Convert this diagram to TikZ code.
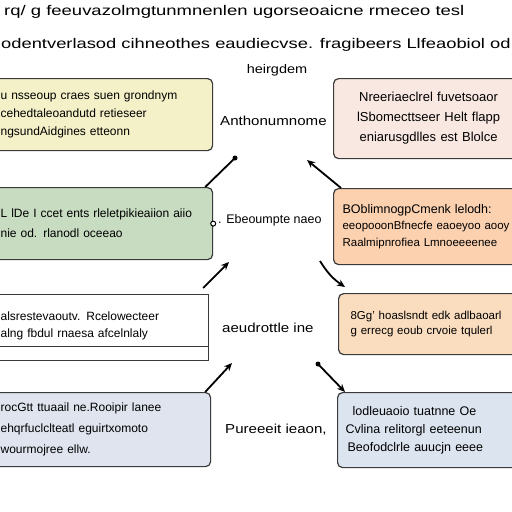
\documentclass[tikz,border=0pt]{standalone}
\usepackage{fontspec}
\setmainfont{Liberation Sans}
\newfontfamily\widefont[FakeStretch=1.31]{Liberation Sans}
\newfontfamily\widerfont[FakeStretch=1.32]{Liberation Sans}
\newfontfamily\labfont[FakeStretch=1.16]{Liberation Sans}
\usetikzlibrary{arrows.meta}
\definecolor{cyel}{HTML}{F4F0C8}
\definecolor{cpink}{HTML}{F9E8E2}
\definecolor{cgreen}{HTML}{C7DCC1}
\definecolor{corange}{HTML}{FBD1B0}
\definecolor{cpeach}{HTML}{FADDBF}
\definecolor{cblueL}{HTML}{DFE4EF}
\definecolor{cblueR}{HTML}{DCE4F0}
\definecolor{cedge}{HTML}{3A3A3A}
\tikzset{
  box/.style={draw=cedge, line width=1.2pt, rounded corners=5pt, anchor=north west,
    inner xsep=6pt, inner ysep=4pt, font=\fontsize{12}{18}\selectfont},
  clabel/.style={font=\labfont\fontsize{13}{15}\selectfont, anchor=west, inner sep=0pt},
  ttl/.style={font=\widefont\fontsize{14}{16}\selectfont, inner sep=0pt},
  conn/.style={line width=1.8pt, draw=black},
  tip/.style={-{Stealth[length=8pt,width=7pt]}},
  dotend/.style={circle, fill=black, inner sep=0pt, minimum size=5pt},
}
\begin{document}
\begin{tikzpicture}[x=1pt,y=-1pt]
\useasboundingbox[fill=white] (0,0) rectangle (512,512);
% titles
\node[ttl, anchor=west, font=\widerfont\fontsize{14}{16}\selectfont] (t1) at (4,12) {rq/ g feeuvazolmgtunmnenlen ugorseoaicne rmeceo tesl};
\node[ttl, anchor=west] (t2) at (1,45) {odentverlasod cihneothes eaudiecvse. fragibeers Llfeaobiol od};
\node[ttl, anchor=center, font=\labfont\fontsize{12.5}{14}\selectfont] (t3) at (277,70) {heirgdem};
% left boxes
\node[box, fill=cyel, minimum width=218pt, minimum height=72pt, text width=206pt, align=left] (b1) at (-6,78)
  {u nsseoup craes suen grondnym\\cehedtaleoandutd retieseer\\ngsundAidgines etteonn};
\node[box, fill=cgreen, minimum width=218pt, minimum height=72pt, text width=206pt, align=left, font=\fontsize{12}{20}\selectfont] (b2) at (-6,187)
  {L lDe I ccet ents rleletpikieaiion aiio\\nie od. rlanodl oceeao};
\node[box, fill=white, minimum width=214pt, minimum height=66pt, text width=202pt, align=left, font=\fontsize{12}{17}\selectfont, rounded corners=0pt, anchor=north west, inner ysep=0pt, text depth=22pt] (b3) at (-6,294)
  {alsrestevaoutv. Rcelowecteer\\alng fbdul rnaesa afcelnlaly};
\draw[cedge, line width=1pt] ([yshift=15pt]b3.south west) -- ([yshift=15pt]b3.south east);
\node[box, fill=cblueL, minimum width=216pt, minimum height=74pt, text width=204pt, align=left, font=\fontsize{12}{21}\selectfont] (b4) at (-6,392)
  {rocGtt ttuaail ne.Rooipir lanee\\ehqrfuclclteatl eguirtxomoto\\wourmojree ellw.};
% right boxes
\node[box, fill=cpink, minimum width=190pt, minimum height=80pt, text width=178pt, align=center, font=\fontsize{13}{20}\selectfont] (r1) at (333,78)
  {Nreeriaeclrel fuvetsoaor\\lSbomecttseer Helt flapp\\eniarusgdlles est Blolce};
\node[box, fill=corange, minimum width=190pt, minimum height=76pt, text width=178pt, align=left, font=\fontsize{11.5}{16.5}\selectfont, inner xsep=9pt] (r2) at (333,188)
  {{\fontsize{12.5}{16}\selectfont BOblimnogpCmenk lelodh:}\\eeopooonBfnecfe eaoeyoo aooy\\Raalmipnrofiea Lmnoeeeenee};
\node[box, fill=cpeach, minimum width=185pt, minimum height=61pt, text width=171pt, align=left, font=\fontsize{11.5}{15}\selectfont, inner xsep=12pt] (r3) at (338,293)
  {8Gg' hoaslsndt edk adlbaoarl\\g errecg eoub crvoie tqulerl};
\node[box, fill=cblueR, minimum width=186pt, minimum height=75pt, text width=170pt, align=left, font=\fontsize{12.5}{18}\selectfont, inner xsep=8pt] (r4) at (337,392)
  {\hspace*{7pt}lodleuaoio tuatnne Oe\\Cvlina relitorgl eeteenun\\\hspace*{2pt}Beofodclrle auucjn eeee};
% centre labels
\node[clabel] (c1) at (220,121) {Anthonumnome};
\node[clabel, font=\fontsize{12.5}{15}\selectfont] (c2) at (218,220) {. Ebeoumpte naeo};
\node[clabel] (c3) at (222,328) {aeudrottle ine};
\node[clabel] (c4) at (225,430) {Pureeeit ieaon,};
% connectors
\coordinate (a1) at (235,158);
\coordinate (a2) at (307,160);
\coordinate (a3) at (229,262);
\coordinate (a4) at (320,261);
\coordinate (a5) at (232,363);
\coordinate (a6) at (318,364);
\coordinate (e4) at (345,287);
\draw[conn] ([xshift=-8pt]b2.north east) -- (a1);
\node[dotend] (d1) at (a1) {};
\draw[conn, tip] ([xshift=8pt]r2.north west) -- (a2);
\draw[conn, tip] ([xshift=-6pt,yshift=6pt]b3.north east) -- (a3);
\draw[conn, tip] (a4) to[bend right=12] (e4);
\draw[conn, tip] ([xshift=-6pt]b4.north east) -- (a5);
\draw[conn, tip] (a6) -- ([xshift=8pt]r4.north west);
\node[dotend] (d2) at (a6) {};
\node[circle, draw=black, line width=1pt, fill=white, inner sep=0pt, minimum size=5pt] (d3) at (b2.east) {};
\end{tikzpicture}
\end{document}
